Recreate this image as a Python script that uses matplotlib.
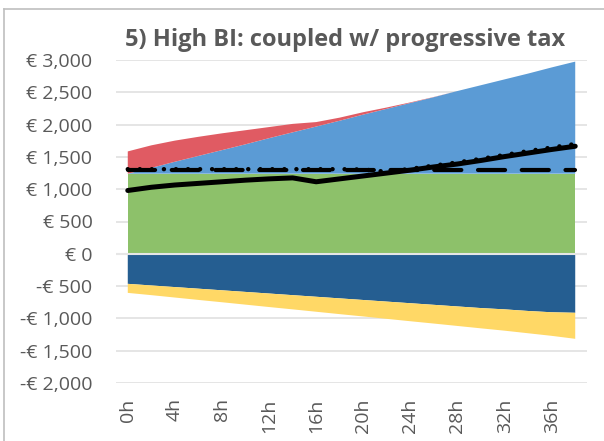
import matplotlib.pyplot as plt
from matplotlib.lines import Line2D

# hours worked per week (categories)
hours = [0, 2, 4, 6, 8, 10, 12, 14, 16, 18, 20, 22, 24, 26, 28, 30, 32, 34, 36, 38]

# positive stacked areas
basic_income = [1240] * 20
net_wage = [0, 90, 185, 275, 365, 455, 550, 640, 730, 820, 915, 1005, 1095, 1185,
            1280, 1370, 1460, 1550, 1645, 1735]
lost_benefit = [345, 349, 327, 296, 260, 218, 172, 131, 69, 48, 37, 20, 9, 3,
                0, 0, 0, 0, 0, 0]

# negative stacked areas
income_tax = [-465, -490, -515, -540, -565, -590, -615, -640, -665, -690, -715, -740,
              -765, -790, -815, -840, -860, -885, -905, -913]
social_contrib = [-140, -150, -162, -174, -185, -197, -209, -220, -232, -244, -255,
                  -267, -279, -290, -302, -314, -330, -345, -365, -403]

# lines
net_income = [980, 1030, 1065, 1090, 1115, 1140, 1160, 1175, 1115, 1160, 1205, 1250,
              1295, 1345, 1390, 1445, 1505, 1560, 1615, 1665]
reference_line = [1290] * 20
current_system = [1310, 1310, 1310, 1310, 1310, 1310, 1310, 1310, 1310, 1310, 1305,
                  1270, 1315, 1365, 1415, 1470, 1530, 1590, 1645, 1700]

xtick_vals = [0, 4, 8, 12, 16, 20, 24, 28, 32, 36]
ytick_vals = list(range(-2000, 3001, 500))

plt.rcParams['font.family'] = ['Open Sans', 'DejaVu Sans']
grey = '#595959'

fig = plt.figure(figsize=(6.04, 4.41), dpi=100)
ax = fig.add_axes([116 / 604, 1 - 383 / 441, 471 / 604, 323 / 441])

ax.stackplot(hours, basic_income, net_wage, lost_benefit,
             colors=['#8DC16A', '#5B9BD5', '#E05B63'], zorder=2)
ax.stackplot(hours, income_tax, social_contrib,
             colors=['#255E91', '#FFD866'], zorder=2)
ax.axhline(0, color='#E6E6E6', lw=1.5, zorder=3)

ax.plot(hours, net_income, color='black', lw=3.6, solid_capstyle='round', zorder=5)
ax.plot(hours, reference_line, color='black', lw=3, linestyle=(0, (6.5, 4)),
        dash_capstyle='round', zorder=4)
ax.plot(hours, current_system, color='black', lw=3.2, linestyle=(0, (0.01, 2.7)),
        dash_capstyle='round', zorder=6)

ax.set_xlim(-1, 39)
ax.set_ylim(-2000, 3000)
ax.set_xticks(xtick_vals)
ax.set_xticklabels([f'{h}h' for h in xtick_vals], rotation=90)
ax.set_yticks(ytick_vals)
ax.set_yticklabels([f'€ {v:,}' if v >= 0 else f'-€ {-v:,}' for v in ytick_vals])
ax.tick_params(length=0, labelsize=14, labelcolor=grey)
ax.tick_params(axis='y', pad=17)
ax.tick_params(axis='x', pad=11)
ax.grid(axis='y', color='#E3E3E3', lw=1.3, zorder=0)
ax.set_axisbelow(True)
for s in ax.spines.values():
    s.set_visible(False)

fig.text(345 / 604, 1 - 40 / 441, '5) High BI: coupled w/ progressive tax',
         ha='center', va='center', fontsize=17, fontweight='bold', color=grey)

# chart border (only top and left edges fall inside the picture)
fig.add_artist(Line2D([4 / 604, 4 / 604], [0, 1 - 9 / 441], color='#BFBFBF', lw=1.2))
fig.add_artist(Line2D([4 / 604, 1], [1 - 9 / 441, 1 - 9 / 441], color='#BFBFBF', lw=1.2))

fig.savefig('out.png', dpi=100)
